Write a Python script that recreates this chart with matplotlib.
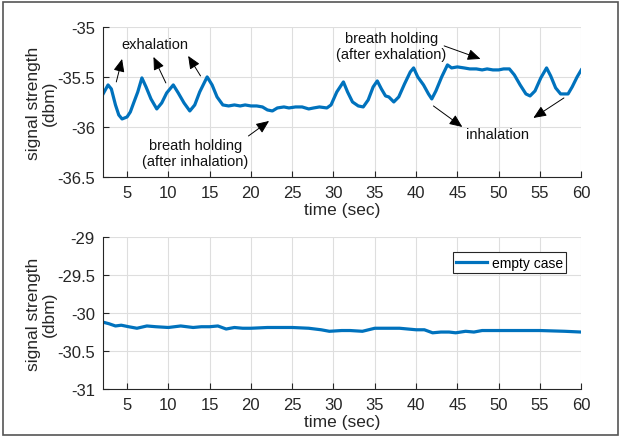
import matplotlib
matplotlib.use("Agg")
from matplotlib import pyplot as plt
from matplotlib.patches import Rectangle

# breathing case (top panel)
t_breath = [2.1, 2.7, 3.1, 3.6, 4.0, 4.4, 5.0, 5.4, 5.8, 6.3, 6.8, 7.3, 7.9, 8.6, 9.2, 9.8,
            10.6, 11.2, 11.9, 12.6, 13.2, 13.8, 14.7, 15.3, 15.9, 16.6, 17.3, 18.0, 18.7,
            19.3, 20.0, 20.7, 21.4, 22.0, 22.6, 23.2, 24.0, 24.6, 25.4, 26.2, 27.0, 27.6,
            28.3, 29.2, 29.7, 30.4, 31.2, 31.7, 32.3, 33.0, 33.6, 34.2, 34.8, 35.3, 35.8,
            36.3, 36.7, 37.3, 37.9, 38.6, 39.3, 39.7, 40.2, 40.9, 41.5, 41.9, 42.4, 43.1,
            43.8, 44.3, 45.0, 45.8, 46.5, 47.3, 48.0, 48.6, 49.3, 50.0, 50.6, 51.3, 51.9,
            52.6, 53.3, 53.8, 54.4, 55.1, 55.8, 56.3, 56.9, 57.5, 58.4, 58.9, 59.5, 60.0]
s_breath = [-35.67, -35.58, -35.62, -35.78, -35.88, -35.92, -35.90, -35.85, -35.76, -35.65,
            -35.51, -35.60, -35.72, -35.82, -35.76, -35.66, -35.58, -35.66, -35.76, -35.84,
            -35.78, -35.65, -35.50, -35.58, -35.70, -35.78, -35.79, -35.78, -35.79, -35.78,
            -35.79, -35.79, -35.80, -35.83, -35.84, -35.81, -35.80, -35.81, -35.80, -35.80,
            -35.82, -35.81, -35.80, -35.81, -35.78, -35.65, -35.55, -35.65, -35.75, -35.79,
            -35.80, -35.73, -35.60, -35.54, -35.62, -35.69, -35.70, -35.75, -35.70, -35.57,
            -35.45, -35.41, -35.50, -35.58, -35.67, -35.72, -35.64, -35.50, -35.38, -35.41,
            -35.40, -35.41, -35.42, -35.42, -35.43, -35.42, -35.43, -35.43, -35.42, -35.42,
            -35.48, -35.58, -35.67, -35.69, -35.64, -35.51, -35.41, -35.49, -35.61, -35.67,
            -35.67, -35.60, -35.50, -35.43]

# empty case (bottom panel)
t_empty = [2.1, 2.8, 3.6, 4.3, 5.2, 6.2, 7.4, 8.5, 10.0, 11.5, 13.0, 14.0, 15.0, 16.0,
           17.0, 18.0, 19.0, 20.0, 22.0, 25.0, 27.0, 28.5, 29.5, 31.0, 32.0, 33.5, 35.0,
           36.5, 38.0, 39.0, 40.0, 41.0, 42.0, 43.0, 44.0, 44.8, 46.0, 47.0, 48.0, 50.0,
           53.0, 55.0, 58.0, 60.0]
s_empty = [-30.12, -30.14, -30.17, -30.16, -30.18, -30.20, -30.17, -30.18, -30.19, -30.17,
           -30.19, -30.18, -30.18, -30.17, -30.21, -30.19, -30.20, -30.20, -30.19, -30.19,
           -30.20, -30.22, -30.24, -30.23, -30.23, -30.24, -30.20, -30.20, -30.20, -30.21,
           -30.22, -30.22, -30.26, -30.25, -30.25, -30.26, -30.24, -30.25, -30.23, -30.23,
           -30.23, -30.23, -30.24, -30.25]

xticks = [5, 10, 15, 20, 25, 30, 35, 40, 45, 50, 55, 60]

plt.rcParams['font.family'] = ['Liberation Sans', 'DejaVu Sans']
line_color = '#0072BD'
text_color = '#262626'


def style_axes(ax, ylim, yticks):
    ax.set_xlim(2.1, 60)
    ax.set_ylim(*ylim)
    ax.set_xticks(xticks)
    ax.set_yticks(yticks)
    ax.set_yticklabels(['%g' % v for v in yticks])
    ax.grid(True, color='#dedede', lw=0.8)
    ax.set_axisbelow(True)
    ax.spines['top'].set_visible(False)
    ax.spines['right'].set_visible(False)
    for side in ['left', 'bottom']:
        ax.spines[side].set_color(text_color)
        ax.spines[side].set_linewidth(0.8)
    ax.tick_params(direction='in', length=4, width=0.8, colors=text_color,
                   labelsize=12, pad=6)
    ax.set_xlabel('time (sec)', fontsize=12.5, color=text_color, labelpad=1)
    ax.set_ylabel('signal strength\n(dbm)', fontsize=12.5, color=text_color,
                  labelpad=0, linespacing=1.1)


fig = plt.figure(figsize=(6.21, 4.39), dpi=100)

# top panel
ax1 = fig.add_axes([0.166, 0.5945, 0.770, 0.342])
ax1.plot(t_breath, s_breath, color=line_color, lw=2.3)
style_axes(ax1, (-36.5, -35), [-36.5, -36, -35.5, -35])

arrow = dict(arrowstyle='-|>,head_length=0.65,head_width=0.28', color='black', lw=0.7,
             mutation_scale=12, shrinkA=0, shrinkB=0)
tsize = 10.5
ax1.text(8.4, -35.17, 'exhalation', fontsize=tsize, ha='center', va='center', color='#111111')
ax1.annotate('', xy=(4.4, -35.32), xytext=(3.7, -35.55), arrowprops=arrow)
ax1.annotate('', xy=(8.2, -35.30), xytext=(9.7, -35.56), arrowprops=arrow)
ax1.annotate('', xy=(12.4, -35.29), xytext=(13.9, -35.49), arrowprops=arrow)

ax1.text(13.3, -36.26, 'breath holding\n(after inhalation)', fontsize=tsize,
         ha='center', va='center', color='#111111', linespacing=1.15)
ax1.annotate('', xy=(22.2, -35.94), xytext=(19.7, -36.09), arrowprops=arrow)

ax1.text(37.0, -35.19, 'breath holding\n(after exhalation)', fontsize=tsize,
         ha='center', va='center', color='#111111', linespacing=1.15)
ax1.annotate('', xy=(47.8, -35.32), xytext=(43.4, -35.19), arrowprops=arrow)

ax1.text(49.9, -36.07, 'inhalation', fontsize=tsize, ha='center', va='center', color='#111111')
ax1.annotate('', xy=(45.6, -36.0), xytext=(42.1, -35.79), arrowprops=arrow)
ax1.annotate('', xy=(54.2, -35.91), xytext=(57.9, -35.71), arrowprops=arrow)

# bottom panel
ax2 = fig.add_axes([0.166, 0.1116, 0.770, 0.346])
ax2.plot(t_empty, s_empty, color=line_color, lw=2.3, label='empty case')
style_axes(ax2, (-31, -29), [-31, -30.5, -30, -29.5, -29])
leg = ax2.legend(loc='upper right', bbox_to_anchor=(0.969, 0.901), fontsize=10,
                 fancybox=False, framealpha=1, handlelength=2.2, borderpad=0.25,
                 handletextpad=0.35, borderaxespad=0)
leg.get_frame().set_edgecolor(text_color)
leg.get_frame().set_linewidth(0.8)

# outer frame round the figure
fig.patches.append(Rectangle((0.005, 0.007), 0.99, 0.986, transform=fig.transFigure,
                             fill=False, edgecolor='#555555', lw=1.2))

fig.savefig('out.png', dpi=100)
